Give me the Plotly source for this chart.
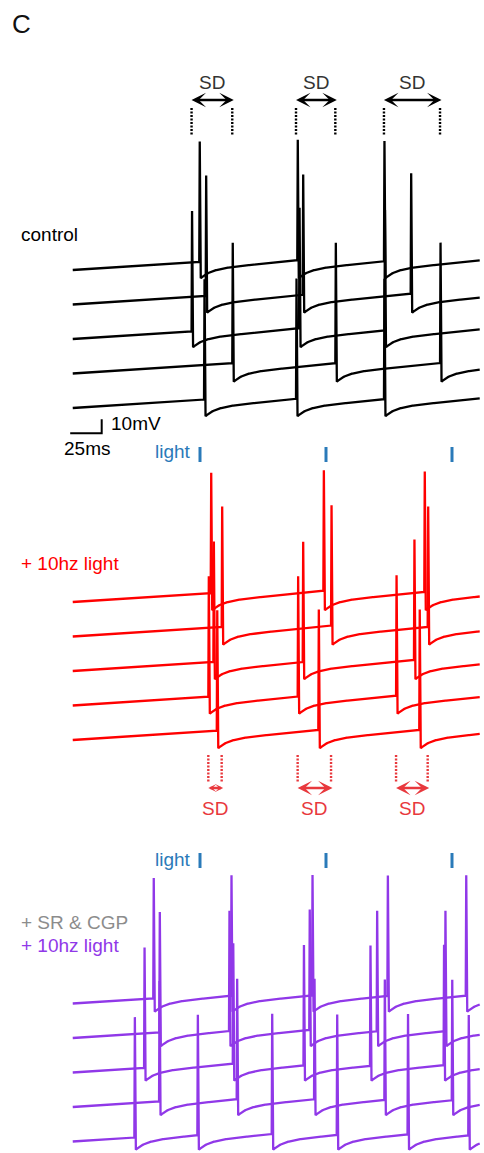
import numpy as np
import plotly.graph_objects as go

# ---------------------------------------------------------------------------
# Data: spike times (ms) of five consecutive sweeps per condition, top sweep first
# ---------------------------------------------------------------------------
CONTROL_SPIKES = [
    [99.4, 177.2, 246.0],
    [104.5, 181.5, 267.2],
    [93.3, 178.6, 246.4],
    [125.6, 207.4, 290.5],
    [103.2, 176.2, 246.0],
]
LIGHT_SPIKES = [
    [108.5, 197.9, 278.0],
    [117.2, 204.0, 280.7],
    [110.6, 181.5, 269.8],
    [106.6, 177.5, 255.6],
    [113.3, 193.9, 274.0],
]
BLOCKER_SPIKES = [
    [62.9, 124.6, 188.9, 248.7, 310.9],
    [67.7, 123.0, 186.7, 240.2, 294.4],
    [55.6, 126.0, 182.1, 234.9, 293.3],
    [67.5, 129.1, 190.5, 246.3, 299.8],
    [47.9, 97.9, 156.9, 208.5, 264.7, 312.9],
]
LIGHT_PULSES_MS = [100.0, 200.0, 300.0]   # 10 Hz stimulation
SCALE_MS = 25.0
SCALE_MV = 10.0

# membrane waveform parameters (mV, ms)
SPIKE_AMP = 86.0
AHP_AMP = 7.0
AHP_TAU = 7.9
RAMP_INITIAL = 0.058
RAMP_POST = 0.09
T_START, T_END = -1.0, 322.0

# ---------------------------------------------------------------------------
# Page geometry
# ---------------------------------------------------------------------------
W, H = 484, 1153
PX_PER_MS = 1.26
PX_PER_MV = 1.4
X0_PX = 74.0            # pixel column of t = 0
SWEEP_STEP_PX = 34.5

BLACK = "#000000"
RED = "#ff0000"
RED_ANN = "#e8383d"
PURPLE = "#9038e8"
BLUE = "#2a7ab9"
GRAY = "#8c8c8c"
FONT = "Liberation Sans, Arial, sans-serif"


def ypx(py):
    """pixel row -> y-axis value"""
    return -py / PX_PER_MV


def xpx(px):
    return (px - X0_PX) / PX_PER_MS


def paper(px, py):
    return px / W, 1 - py / H


def post_spike(dt):
    return RAMP_POST * dt - AHP_AMP * np.exp(-dt / AHP_TAU)


def sweep(spikes):
    t_pts = [T_START]
    v_pts = [0.0]
    v_pre = RAMP_INITIAL * (spikes[0] - T_START)
    for k, s in enumerate(spikes):
        t_pts += [s, s + 0.4]
        v_pts += [v_pre, v_pre + SPIKE_AMP]
        t_next = spikes[k + 1] if k + 1 < len(spikes) else T_END
        dt = np.append(np.arange(1.2, t_next - s, 0.5), t_next - s)
        t_pts.extend(s + dt)
        v_pts.extend(post_spike(dt))
        v_pre = float(post_spike(t_next - s))
    return np.array(t_pts), np.array(v_pts)


fig = go.Figure()

panels = [
    (CONTROL_SPIKES, 270.0, BLACK),
    (LIGHT_SPIKES, 602.0, RED),
    (BLOCKER_SPIKES, 1003.5, PURPLE),
]
for spikes_set, top_px, color in panels:
    for i, spikes in enumerate(spikes_set):
        t, v = sweep(spikes)
        base = ypx(top_px + i * SWEEP_STEP_PX)
        fig.add_trace(go.Scatter(
            x=t, y=base + v, mode="lines",
            line=dict(color=color, width=2.3),
            hoverinfo="skip", showlegend=False,
        ))

shapes = []
annotations = []


def text(s, px, py, size=19, color=BLACK, xanchor="left"):
    x, y = paper(px, py)
    annotations.append(dict(
        text=s, x=x, y=y, xref="paper", yref="paper",
        xanchor=xanchor, yanchor="middle", showarrow=False,
        font=dict(family=FONT, size=size, color=color),
    ))


def sd_marker(spikes_set, color, text_color, dot_top, dot_bot, arrow_y, label_y):
    n = min(len(s) for s in spikes_set)
    for k in range(n):
        lo = min(s[k] for s in spikes_set)
        hi = max(s[k] for s in spikes_set)
        for tx in (lo, hi):
            shapes.append(dict(
                type="line", xref="x", yref="y",
                x0=tx, x1=tx, y0=ypx(dot_top), y1=ypx(dot_bot),
                line=dict(color=color, width=2.4, dash="2px,1.5px"),
            ))
        pad = 1.5 / PX_PER_MS
        span_px = (hi - lo) * PX_PER_MS
        head = min(1.05, 1.05 * span_px / 24.0)   # smaller heads on short arrows
        annotations.append(dict(
            text="", x=hi + pad, y=ypx(arrow_y), ax=lo - pad, ay=ypx(arrow_y),
            xref="x", yref="y", axref="x", ayref="y",
            showarrow=True, arrowside="end+start",
            arrowhead=3, startarrowhead=3,
            arrowsize=head, startarrowsize=head, arrowwidth=2.3,
            arrowcolor=color, standoff=0, startstandoff=0,
        ))
        mid_px = X0_PX + (lo + hi) / 2 * PX_PER_MS
        text("SD", mid_px, label_y, color=text_color, xanchor="center")


# SD windows
sd_marker(CONTROL_SPIKES, BLACK, "#333333", 108, 135, 100, 82)
sd_marker(LIGHT_SPIKES, RED_ANN, RED_ANN, 755, 782, 788, 808)

# light pulses
for row_top, row_bot, label_y in ((447, 462, 452), (853, 868, 859)):
    for tp in LIGHT_PULSES_MS:
        shapes.append(dict(
            type="line", xref="x", yref="y",
            x0=tp, x1=tp, y0=ypx(row_top), y1=ypx(row_bot),
            line=dict(color=BLUE, width=3),
        ))
    text("light", 193, label_y, color=BLUE, xanchor="right")

# scale bar
bar_right = xpx(101.7)
bar_y = ypx(433.3)
shapes.append(dict(
    type="path", xref="x", yref="y",
    path=(f"M{bar_right - SCALE_MS},{bar_y} L{bar_right},{bar_y} "
          f"L{bar_right},{bar_y + SCALE_MV}"),
    line=dict(color=BLACK, width=2),
))
text("10mV", 109, 423.5)
text("25ms", 86.5, 449, xanchor="center")

# labels
text("C", 10, 24, size=26, color="#111111")
text("control", 19, 234)
text("+ 10hz light", 19, 563, color=RED)
text("+ SR & CGP", 19, 922, color=GRAY)
text("+ 10hz light", 19, 945.5, color=PURPLE)

fig.update_layout(
    width=W, height=H,
    margin=dict(l=0, r=0, t=0, b=0),
    paper_bgcolor="white", plot_bgcolor="white",
    showlegend=False,
    xaxis=dict(visible=False, range=[xpx(0), xpx(W)], fixedrange=True),
    yaxis=dict(visible=False, range=[ypx(H), ypx(0)], fixedrange=True),
    shapes=shapes, annotations=annotations,
)

fig.write_html("out.html")
